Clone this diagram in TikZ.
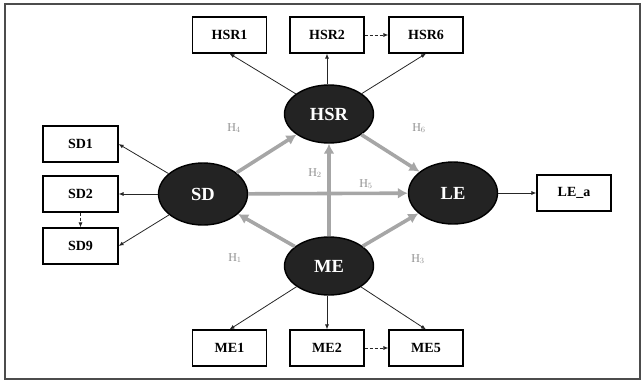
\documentclass[tikz,border=0pt]{standalone}
\usepackage{fontspec}
\setmainfont{Liberation Serif}
\usetikzlibrary{arrows.meta,shapes.geometric}
\definecolor{pathgray}{HTML}{A6A6A6}
\definecolor{labgray}{HTML}{909090}
\definecolor{latfill}{HTML}{232323}
\begin{document}
\begin{tikzpicture}[x=1pt,y=-1pt,
  indbox/.style={draw=black,line width=1.1pt,fill=white,minimum width=74pt,minimum height=36pt,inner sep=0pt,font=\fontsize{14}{16}\selectfont\bfseries},
  latent/.style={ellipse,draw=black,line width=1.4pt,fill=latfill,text=white,inner sep=0pt,minimum width=89pt,minimum height=58pt,font=\fontsize{18.5}{20}\selectfont\bfseries},
  path/.style={draw=pathgray,line width=3.6pt,-{Latex[length=10pt,width=11pt]}},
  load/.style={draw=black!85,line width=0.8pt,-{Latex[length=5pt,width=4pt]}},
  dashload/.style={draw=black!85,line width=0.8pt,dash pattern=on 3pt off 2pt,-{Latex[length=5pt,width=4pt]}},
  hlab/.style={text=labgray,font=\fontsize{12}{14}\selectfont,inner sep=0pt}
]
\useasboundingbox (0,0) rectangle (644,381);
\draw[draw=black!70,line width=1.5pt] (5,4) rectangle (640,379);

% latent variables
\node[latent] (HSR) at (329,114) {HSR};
\node[latent,minimum height=62pt] (SD) at (203,194) {SD};
\node[latent,minimum height=62pt] (LE) at (453,193) {LE};
\node[latent] (ME) at (329,266) {ME};

% indicators
\node[indbox] (HSR1) at (229.5,35) {HSR1};
\node[indbox] (HSR2) at (327,35) {HSR2};
\node[indbox] (HSR6) at (426,35) {HSR6};
\node[indbox,minimum width=75pt] (SD1) at (80.5,144) {SD1};
\node[indbox,minimum width=75pt] (SD2) at (80.5,194) {SD2};
\node[indbox,minimum width=75pt] (SD9) at (80.5,246) {SD9};
\node[indbox] (LEa) at (574,193) {LE\_a};
\node[indbox] (ME1) at (229.5,348) {ME1};
\node[indbox] (ME2) at (327,348) {ME2};
\node[indbox] (ME5) at (426,348) {ME5};

% structural paths
\draw[path] (SD) -- (HSR);
\draw[path] (HSR) -- (LE);
\draw[path] (ME) -- (HSR);
\draw[path] (SD) -- (LE);
\draw[path] (ME) -- (SD);
\draw[path] (ME) -- (LE);

% labels
\node[hlab] (h4) at (234,128) {H$_4$};
\node[hlab] (h6) at (419,128) {H$_6$};
\node[hlab] (h2) at (315,173) {H$_2$};
\node[hlab] (h5) at (366,184) {H$_5$};
\node[hlab] (h1) at (235,258) {H$_1$};
\node[hlab] (h3) at (418,259) {H$_3$};

% loadings
\draw[load] (HSR) -- (HSR1.south);
\draw[load] (HSR.north -| HSR2.south) -- (HSR2.south);
\draw[load] (HSR) -- (HSR6.south);
\draw[dashload] (HSR2) -- (HSR6);
\draw[load] (SD) -- (SD1.east);
\draw[load] (SD) -- (SD2.east);
\draw[load] (SD) -- (SD9.east);
\draw[dashload] (SD2) -- (SD9);
\draw[load] (LE) -- (LEa);
\draw[load] (ME) -- (ME1.north);
\draw[load] (ME.south -| ME2.north) -- (ME2.north);
\draw[load] (ME) -- (ME5.north);
\draw[dashload] (ME2) -- (ME5);
\end{tikzpicture}
\end{document}
